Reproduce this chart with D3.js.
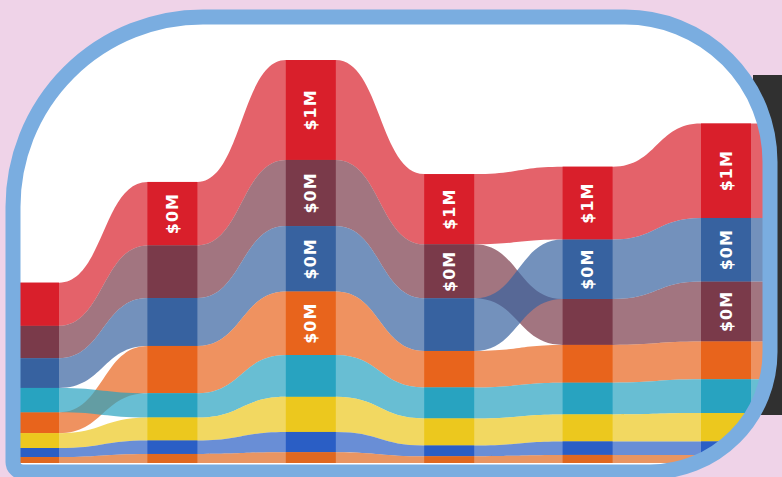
<!DOCTYPE html>
<html>

<head>
    <script type="text/javascript" src="https://d3js.org/d3.v7.min.js"></script>
    <style type="text/css">
        body {
            margin: 0;
            background: #efd3e8;
        }

        .ribbon {
            fill-opacity: 0.7;
            stroke: none;
        }

        .label {
            fill: #fff;
            font-family: "DejaVu Sans", sans-serif;
            font-weight: bold;
            font-size: 16px;
            letter-spacing: 1px;
        }
    </style>
</head>

<body>
<div id="chart"></div>

<script type="text/javascript">
    var w = 782,
        h = 477;

    // time columns (no visible labels in the picture)
    var periods = ["P1", "P2", "P3", "P4", "P5", "P6"];

    // series, values in $M per column
    var seriesNames = ["red", "maroon", "blue", "orange", "teal", "yellow", "darkblue", "rust"];
    var seriesColors = ["#d91f2b", "#7a3a4a", "#3762a0", "#e8641c", "#28a3c0", "#ecc81e", "#2a5ec5", "#e0681f"];

    var red = [0.32, 0.47, 0.74, 0.52, 0.54, 0.70];
    var maroon = [0.24, 0.39, 0.49, 0.40, 0.34, 0.445];
    var blue = [0.22, 0.355, 0.485, 0.39, 0.44, 0.47];
    var orange = [0.155, 0.35, 0.47, 0.27, 0.28, 0.28];
    var teal = [0.18, 0.18, 0.31, 0.23, 0.235, 0.25];
    var yellow = [0.11, 0.17, 0.26, 0.20, 0.20, 0.21];
    var darkblue = [0.067, 0.10, 0.15, 0.08, 0.10, 0.10];
    var rust = [0.044, 0.067, 0.08, 0.05, 0.06, 0.06];

    var seriesValues = [red, maroon, blue, orange, teal, yellow, darkblue, rust];

    var labelMin = 0.4; // bars below this get no label
    var fmt = function(v) { return "$" + d3.format(".0f")(v) + "M"; };

    var x = d3.scalePoint().domain(periods).range([34, 726]);
    var y = d3.scaleLinear().domain([0, 3]).range([463, 58]);
    var bw = 50;

    // stack per column: biggest value on top
    var series = seriesNames.map(function(name, i) {
        return { name: name, color: seriesColors[i], values: seriesValues[i], pos: [] };
    });
    periods.forEach(function(p, j) {
        var order = series.slice().sort(function(a, b) { return a.values[j] - b.values[j]; });
        var acc = 0;
        order.forEach(function(s) {
            s.pos[j] = { v0: acc, v1: acc + s.values[j] };
            acc += s.values[j];
        });
    });

    // panel outline: left, top, right, bottom and corner radii
    var L = 13, T = 17, R = 770, B = 472;
    var rtl = 190, rtr = 145, rbr = 120, rbl = 10;
    var panel = d3.path();
    panel.moveTo(L, T + rtl);
    panel.arcTo(L, T, L + rtl, T, rtl);
    panel.lineTo(R - rtr, T);
    panel.arcTo(R, T, R, T + rtr, rtr);
    panel.lineTo(R, B - rbr);
    panel.arcTo(R, B, R - rbr, B, rbr);
    panel.lineTo(L + rbl, B);
    panel.arcTo(L, B, L, B - rbl, rbl);
    panel.closePath();

    var svg = d3.select("#chart")
        .append("svg")
        .attr("width", w)
        .attr("height", h);

    svg.append("rect")
        .attr("x", 753).attr("y", 75)
        .attr("width", w - 753).attr("height", 340)
        .attr("fill", "#303030");

    svg.append("clipPath")
        .attr("id", "panel-clip")
        .append("path")
        .attr("d", panel.toString());

    svg.append("path")
        .attr("d", panel.toString())
        .attr("fill", "#fff");

    var chart = svg.append("g").attr("clip-path", "url(#panel-clip)");

    // ribbon outline for one series: flat over bars, s-curve in the gaps
    function ribbonPath(s) {
        var n = periods.length;
        var p = d3.path();
        var xs = periods.map(function(d) { return x(d); });
        var tail = 60;
        p.moveTo(xs[0] - bw / 2, y(s.pos[0].v1));
        for (var j = 0; j < n; j++) {
            var xa = xs[j] + bw / 2;
            p.lineTo(xa, y(s.pos[j].v1));
            if (j < n - 1) {
                var xb = xs[j + 1] - bw / 2, xm = (xa + xb) / 2;
                p.bezierCurveTo(xm, y(s.pos[j].v1), xm, y(s.pos[j + 1].v1), xb, y(s.pos[j + 1].v1));
            } else {
                p.lineTo(xa + tail, y(s.pos[j].v1));
                p.lineTo(xa + tail, y(s.pos[j].v0));
            }
        }
        for (var k = n - 1; k >= 0; k--) {
            var xl = xs[k] - bw / 2;
            if (k === n - 1) p.lineTo(xs[k] + bw / 2, y(s.pos[k].v0));
            p.lineTo(xl, y(s.pos[k].v0));
            if (k > 0) {
                var xp = xs[k - 1] + bw / 2, xm2 = (xl + xp) / 2;
                p.bezierCurveTo(xm2, y(s.pos[k].v0), xm2, y(s.pos[k - 1].v0), xp, y(s.pos[k - 1].v0));
            }
        }
        p.closePath();
        return p.toString();
    }

    chart.selectAll(".ribbon")
        .data(series)
        .enter().append("path")
        .attr("class", "ribbon")
        .attr("d", ribbonPath)
        .attr("fill", function(d) { return d.color; });

    var cells = [];
    series.forEach(function(s) {
        periods.forEach(function(p, j) {
            cells.push({ period: p, color: s.color, value: s.values[j], v0: s.pos[j].v0, v1: s.pos[j].v1 });
        });
    });

    chart.selectAll(".bar")
        .data(cells)
        .enter().append("rect")
        .attr("class", "bar")
        .attr("x", function(d) { return x(d.period) - bw / 2; })
        .attr("y", function(d) { return y(d.v1); })
        .attr("width", bw)
        .attr("height", function(d) { return y(d.v0) - y(d.v1); })
        .attr("fill", function(d) { return d.color; });

    chart.selectAll(".label")
        .data(cells.filter(function(d) { return d.value >= labelMin; }))
        .enter().append("text")
        .attr("class", "label")
        .attr("text-anchor", "middle")
        .attr("dominant-baseline", "central")
        .attr("transform", function(d) {
            return "translate(" + x(d.period) + "," + y((d.v0 + d.v1) / 2) + ") rotate(-90)";
        })
        .text(function(d) { return fmt(d.value); });

    svg.append("path")
        .attr("d", panel.toString())
        .attr("fill", "none")
        .attr("stroke", "#7aade0")
        .attr("stroke-width", 15);
</script>
</body>

</html>
